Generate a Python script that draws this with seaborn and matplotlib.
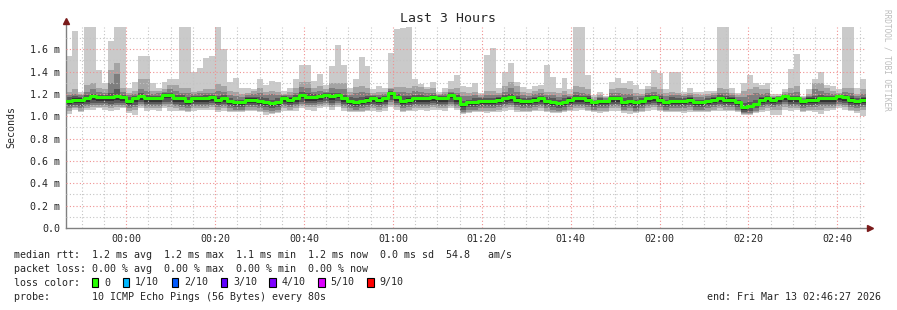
import numpy as np
import pandas as pd
import matplotlib
matplotlib.use("Agg")
import matplotlib.pyplot as plt
from matplotlib.patches import Rectangle
import seaborn as sns

# ---------------- data (ms), one value per 80 s step ----------------
p10 = [1.54, 1.76, 1.22, 1.85, 1.85, 1.41, 1.30, 1.67, 1.85, 1.85, 1.25, 1.31, 1.54, 1.54, 1.30, 1.25,
       1.31, 1.33, 1.33, 1.85, 1.85, 1.40, 1.43, 1.52, 1.54, 1.85, 1.60, 1.31, 1.34, 1.25, 1.25, 1.24, 1.33,
       1.28, 1.32, 1.31, 1.23, 1.25, 1.33, 1.46, 1.46, 1.32, 1.38, 1.28, 1.45, 1.64, 1.46, 1.25, 1.33, 1.53,
       1.45, 1.24, 1.27, 1.25, 1.57, 1.78, 1.79, 1.85, 1.33, 1.29, 1.26, 1.31, 1.22, 1.25, 1.32, 1.37, 1.27,
       1.26, 1.30, 1.21, 1.55, 1.61, 1.25, 1.40, 1.48, 1.31, 1.26, 1.24, 1.27, 1.28, 1.46, 1.35, 1.25, 1.34,
       1.24, 1.85, 1.85, 1.37, 1.19, 1.22, 1.18, 1.31, 1.34, 1.30, 1.32, 1.28, 1.24, 1.27, 1.41, 1.39, 1.24,
       1.40, 1.40, 1.22, 1.25, 1.22, 1.22, 1.23, 1.23, 1.85, 1.85, 1.25, 1.21, 1.30, 1.37, 1.30, 1.28,
       1.30, 1.20, 1.20, 1.24, 1.42, 1.56, 1.18, 1.24, 1.33, 1.40, 1.28, 1.27, 1.24, 1.85, 1.85, 1.25, 1.33]

p9 = [1.22, 1.24, 1.20, 1.28, 1.30, 1.25, 1.24, 1.41, 1.48, 1.25, 1.21, 1.23, 1.33, 1.33, 1.23, 1.23,
      1.24, 1.28, 1.28, 1.25, 1.25, 1.22, 1.23, 1.24, 1.24, 1.29, 1.27, 1.23, 1.22, 1.20, 1.21, 1.23, 1.25,
      1.22, 1.23, 1.22, 1.20, 1.22, 1.25, 1.31, 1.31, 1.25, 1.27, 1.24, 1.30, 1.30, 1.30, 1.22, 1.26, 1.27,
      1.25, 1.21, 1.22, 1.22, 1.25, 1.26, 1.26, 1.25, 1.27, 1.26, 1.24, 1.25, 1.20, 1.22, 1.24, 1.25, 1.22,
      1.21, 1.22, 1.19, 1.23, 1.23, 1.21, 1.27, 1.31, 1.27, 1.22, 1.21, 1.23, 1.24, 1.22, 1.22, 1.21, 1.23,
      1.20, 1.27, 1.26, 1.24, 1.17, 1.19, 1.17, 1.24, 1.25, 1.25, 1.24, 1.21, 1.20, 1.24, 1.26, 1.24, 1.21,
      1.22, 1.21, 1.20, 1.21, 1.20, 1.19, 1.20, 1.21, 1.25, 1.24, 1.21, 1.19, 1.23, 1.24, 1.26, 1.24,
      1.24, 1.18, 1.18, 1.22, 1.25, 1.27, 1.17, 1.20, 1.30, 1.30, 1.25, 1.23, 1.21, 1.25, 1.25, 1.20, 1.24]

p8 = [1.19, 1.20, 1.19, 1.22, 1.24, 1.22, 1.21, 1.30, 1.38, 1.22, 1.19, 1.20, 1.24, 1.23, 1.20, 1.21,
      1.22, 1.24, 1.23, 1.21, 1.21, 1.20, 1.21, 1.21, 1.21, 1.23, 1.22, 1.19, 1.18, 1.17, 1.19, 1.20, 1.21,
      1.19, 1.20, 1.19, 1.19, 1.19, 1.21, 1.26, 1.25, 1.22, 1.23, 1.22, 1.25, 1.24, 1.24, 1.19, 1.21, 1.22,
      1.21, 1.19, 1.19, 1.20, 1.24, 1.22, 1.22, 1.21, 1.23, 1.22, 1.21, 1.21, 1.19, 1.20, 1.22, 1.21, 1.18,
      1.18, 1.19, 1.17, 1.19, 1.19, 1.19, 1.22, 1.25, 1.22, 1.19, 1.18, 1.20, 1.21, 1.19, 1.19, 1.17, 1.19,
      1.18, 1.22, 1.21, 1.20, 1.15, 1.17, 1.16, 1.21, 1.21, 1.20, 1.20, 1.18, 1.18, 1.21, 1.22, 1.20, 1.18,
      1.19, 1.19, 1.18, 1.19, 1.17, 1.17, 1.18, 1.19, 1.21, 1.21, 1.19, 1.17, 1.17, 1.19, 1.21, 1.20,
      1.21, 1.17, 1.18, 1.20, 1.21, 1.22, 1.16, 1.18, 1.24, 1.23, 1.21, 1.20, 1.20, 1.22, 1.21, 1.18, 1.20]

p7 = [1.17, 1.18, 1.17, 1.19, 1.20, 1.19, 1.19, 1.21, 1.24, 1.19, 1.17, 1.18, 1.21, 1.19, 1.18, 1.18,
      1.21, 1.21, 1.19, 1.19, 1.17, 1.18, 1.18, 1.19, 1.19, 1.18, 1.19, 1.16, 1.15, 1.15, 1.17, 1.17, 1.17,
      1.16, 1.15, 1.16, 1.18, 1.17, 1.19, 1.22, 1.21, 1.20, 1.20, 1.21, 1.21, 1.21, 1.19, 1.17, 1.16, 1.17,
      1.18, 1.18, 1.17, 1.18, 1.23, 1.20, 1.18, 1.18, 1.19, 1.19, 1.18, 1.19, 1.18, 1.18, 1.21, 1.19, 1.14,
      1.15, 1.16, 1.16, 1.16, 1.16, 1.17, 1.19, 1.20, 1.18, 1.16, 1.16, 1.17, 1.18, 1.17, 1.16, 1.15, 1.16,
      1.17, 1.19, 1.18, 1.18, 1.14, 1.16, 1.15, 1.18, 1.18, 1.16, 1.17, 1.15, 1.16, 1.19, 1.19, 1.18, 1.15,
      1.17, 1.16, 1.16, 1.17, 1.15, 1.15, 1.16, 1.17, 1.19, 1.18, 1.17, 1.15, 1.12, 1.13, 1.15, 1.17,
      1.18, 1.16, 1.17, 1.19, 1.18, 1.18, 1.15, 1.17, 1.18, 1.19, 1.18, 1.18, 1.19, 1.19, 1.18, 1.16, 1.17]

p6 = [1.15, 1.16, 1.16, 1.17, 1.19, 1.18, 1.18, 1.18, 1.19, 1.18, 1.15, 1.17, 1.19, 1.17, 1.17, 1.17,
      1.20, 1.20, 1.17, 1.17, 1.15, 1.17, 1.17, 1.17, 1.18, 1.16, 1.17, 1.15, 1.14, 1.14, 1.16, 1.16, 1.15,
      1.14, 1.13, 1.14, 1.17, 1.16, 1.17, 1.20, 1.18, 1.18, 1.19, 1.20, 1.19, 1.20, 1.17, 1.15, 1.14, 1.15,
      1.16, 1.17, 1.16, 1.17, 1.22, 1.18, 1.15, 1.16, 1.17, 1.17, 1.17, 1.18, 1.17, 1.17, 1.20, 1.17, 1.12,
      1.14, 1.14, 1.15, 1.15, 1.15, 1.16, 1.17, 1.18, 1.16, 1.15, 1.15, 1.16, 1.17, 1.15, 1.14, 1.13, 1.14,
      1.16, 1.17, 1.17, 1.16, 1.14, 1.15, 1.15, 1.17, 1.17, 1.14, 1.15, 1.14, 1.15, 1.17, 1.18, 1.16, 1.14,
      1.15, 1.15, 1.15, 1.16, 1.14, 1.14, 1.15, 1.16, 1.17, 1.16, 1.16, 1.14, 1.09, 1.10, 1.12, 1.16,
      1.17, 1.16, 1.17, 1.19, 1.17, 1.17, 1.15, 1.16, 1.16, 1.17, 1.17, 1.17, 1.19, 1.18, 1.16, 1.15, 1.16]

median = [1.14, 1.15, 1.15, 1.16, 1.18, 1.17, 1.17, 1.17, 1.18, 1.17, 1.14, 1.16, 1.18, 1.16, 1.16, 1.16,
          1.19, 1.19, 1.16, 1.16, 1.14, 1.16, 1.16, 1.16, 1.17, 1.15, 1.16, 1.14, 1.13, 1.13, 1.15, 1.15, 1.14,
          1.13, 1.12, 1.13, 1.16, 1.15, 1.16, 1.19, 1.17, 1.17, 1.18, 1.19, 1.18, 1.19, 1.16, 1.14, 1.13, 1.14,
          1.15, 1.16, 1.15, 1.16, 1.21, 1.17, 1.14, 1.15, 1.16, 1.16, 1.16, 1.17, 1.16, 1.16, 1.19, 1.16, 1.11,
          1.13, 1.13, 1.14, 1.14, 1.14, 1.15, 1.16, 1.17, 1.15, 1.14, 1.14, 1.15, 1.16, 1.14, 1.13, 1.12, 1.13,
          1.15, 1.16, 1.16, 1.15, 1.13, 1.14, 1.14, 1.16, 1.16, 1.13, 1.14, 1.13, 1.14, 1.16, 1.17, 1.15, 1.13,
          1.14, 1.14, 1.14, 1.15, 1.13, 1.13, 1.14, 1.15, 1.16, 1.15, 1.15, 1.13, 1.08, 1.09, 1.11, 1.15,
          1.16, 1.15, 1.16, 1.18, 1.16, 1.16, 1.14, 1.15, 1.15, 1.16, 1.16, 1.16, 1.18, 1.17, 1.15, 1.14, 1.15]

p5 = [1.11, 1.12, 1.12, 1.13, 1.15, 1.14, 1.14, 1.14, 1.15, 1.14, 1.11, 1.13, 1.15, 1.13, 1.13, 1.13,
      1.16, 1.16, 1.13, 1.13, 1.11, 1.13, 1.13, 1.13, 1.14, 1.12, 1.13, 1.11, 1.10, 1.10, 1.12, 1.12, 1.11,
      1.10, 1.09, 1.10, 1.13, 1.12, 1.13, 1.16, 1.14, 1.14, 1.15, 1.16, 1.15, 1.16, 1.13, 1.11, 1.10, 1.11,
      1.12, 1.13, 1.12, 1.13, 1.18, 1.14, 1.11, 1.12, 1.13, 1.13, 1.13, 1.14, 1.13, 1.13, 1.16, 1.13, 1.08,
      1.10, 1.10, 1.11, 1.11, 1.11, 1.12, 1.13, 1.14, 1.12, 1.11, 1.11, 1.12, 1.13, 1.11, 1.10, 1.09, 1.10,
      1.12, 1.13, 1.13, 1.12, 1.10, 1.11, 1.11, 1.13, 1.13, 1.10, 1.11, 1.10, 1.11, 1.13, 1.14, 1.12, 1.10,
      1.11, 1.11, 1.11, 1.12, 1.10, 1.10, 1.11, 1.12, 1.13, 1.12, 1.12, 1.10, 1.06, 1.07, 1.09, 1.12,
      1.13, 1.12, 1.13, 1.15, 1.13, 1.13, 1.11, 1.12, 1.12, 1.13, 1.13, 1.13, 1.15, 1.14, 1.12, 1.11, 1.12]

p4 = [1.09, 1.10, 1.09, 1.11, 1.12, 1.12, 1.12, 1.11, 1.12, 1.12, 1.09, 1.10, 1.13, 1.11, 1.11, 1.11,
      1.13, 1.13, 1.11, 1.10, 1.09, 1.11, 1.11, 1.11, 1.12, 1.10, 1.11, 1.09, 1.08, 1.08, 1.10, 1.10, 1.09,
      1.08, 1.07, 1.08, 1.11, 1.10, 1.11, 1.13, 1.12, 1.12, 1.13, 1.14, 1.12, 1.14, 1.11, 1.09, 1.08, 1.09,
      1.10, 1.11, 1.10, 1.11, 1.15, 1.12, 1.09, 1.10, 1.11, 1.11, 1.11, 1.12, 1.11, 1.11, 1.13, 1.11, 1.06,
      1.08, 1.08, 1.09, 1.09, 1.09, 1.10, 1.11, 1.12, 1.10, 1.09, 1.09, 1.10, 1.11, 1.09, 1.08, 1.07, 1.08,
      1.10, 1.11, 1.11, 1.10, 1.08, 1.09, 1.09, 1.11, 1.11, 1.08, 1.09, 1.07, 1.09, 1.11, 1.12, 1.10, 1.08,
      1.09, 1.09, 1.09, 1.10, 1.08, 1.08, 1.09, 1.10, 1.11, 1.10, 1.10, 1.08, 1.04, 1.05, 1.07, 1.10,
      1.11, 1.10, 1.11, 1.13, 1.11, 1.11, 1.09, 1.10, 1.10, 1.11, 1.11, 1.11, 1.13, 1.12, 1.10, 1.09, 1.10]

p3 = [1.07, 1.08, 1.07, 1.09, 1.10, 1.10, 1.10, 1.09, 1.10, 1.10, 1.07, 1.08, 1.11, 1.09, 1.09, 1.09,
      1.11, 1.11, 1.09, 1.08, 1.07, 1.09, 1.09, 1.09, 1.10, 1.08, 1.09, 1.07, 1.06, 1.06, 1.08, 1.08, 1.07,
      1.06, 1.05, 1.06, 1.09, 1.08, 1.09, 1.11, 1.10, 1.10, 1.11, 1.12, 1.10, 1.12, 1.09, 1.07, 1.06, 1.07,
      1.08, 1.09, 1.08, 1.09, 1.13, 1.10, 1.07, 1.08, 1.09, 1.09, 1.09, 1.10, 1.09, 1.09, 1.11, 1.09, 1.04,
      1.06, 1.06, 1.07, 1.07, 1.07, 1.08, 1.09, 1.10, 1.08, 1.07, 1.07, 1.08, 1.09, 1.07, 1.06, 1.05, 1.06,
      1.08, 1.09, 1.09, 1.08, 1.06, 1.07, 1.07, 1.09, 1.09, 1.06, 1.07, 1.05, 1.07, 1.09, 1.10, 1.08, 1.06,
      1.07, 1.07, 1.07, 1.08, 1.06, 1.06, 1.07, 1.08, 1.09, 1.08, 1.08, 1.06, 1.03, 1.03, 1.05, 1.08,
      1.09, 1.08, 1.09, 1.11, 1.09, 1.09, 1.07, 1.08, 1.08, 1.09, 1.09, 1.09, 1.11, 1.10, 1.08, 1.07, 1.08]

p2 = [1.05, 1.07, 1.05, 1.07, 1.08, 1.08, 1.08, 1.07, 1.08, 1.08, 1.05, 1.06, 1.09, 1.07, 1.07, 1.07,
      1.09, 1.08, 1.07, 1.06, 1.05, 1.07, 1.07, 1.07, 1.08, 1.06, 1.07, 1.05, 1.05, 1.05, 1.06, 1.06, 1.05,
      1.04, 1.03, 1.04, 1.07, 1.06, 1.07, 1.09, 1.08, 1.08, 1.09, 1.10, 1.08, 1.10, 1.07, 1.05, 1.05, 1.05,
      1.06, 1.07, 1.06, 1.07, 1.10, 1.08, 1.05, 1.06, 1.07, 1.07, 1.07, 1.08, 1.07, 1.07, 1.09, 1.07, 1.03,
      1.04, 1.05, 1.05, 1.05, 1.05, 1.06, 1.07, 1.08, 1.06, 1.05, 1.05, 1.06, 1.07, 1.05, 1.04, 1.04, 1.05,
      1.06, 1.07, 1.07, 1.06, 1.05, 1.05, 1.05, 1.07, 1.07, 1.05, 1.05, 1.04, 1.05, 1.07, 1.08, 1.06, 1.05,
      1.05, 1.05, 1.05, 1.06, 1.05, 1.05, 1.05, 1.06, 1.07, 1.06, 1.06, 1.05, 1.02, 1.02, 1.04, 1.06,
      1.07, 1.06, 1.06, 1.08, 1.07, 1.07, 1.05, 1.06, 1.06, 1.06, 1.07, 1.07, 1.09, 1.08, 1.06, 1.05, 1.06]

p1 = [1.02, 1.06, 1.04, 1.06, 1.06, 1.07, 1.06, 1.05, 1.06, 1.07, 1.03, 1.01, 1.07, 1.05, 1.06, 1.05,
      1.07, 1.05, 1.05, 1.05, 1.04, 1.05, 1.06, 1.06, 1.06, 1.04, 1.05, 1.04, 1.04, 1.04, 1.05, 1.05, 1.04,
      1.01, 1.02, 1.03, 1.05, 1.05, 1.05, 1.07, 1.06, 1.05, 1.07, 1.08, 1.06, 1.08, 1.05, 1.04, 1.04, 1.04,
      1.05, 1.05, 1.04, 1.05, 1.08, 1.06, 1.04, 1.05, 1.05, 1.06, 1.05, 1.06, 1.06, 1.05, 1.07, 1.06, 1.02,
      1.03, 1.04, 1.04, 1.03, 1.04, 1.04, 1.05, 1.06, 1.04, 1.04, 1.04, 1.05, 1.05, 1.04, 1.03, 1.03, 1.04,
      1.05, 1.05, 1.06, 1.05, 1.04, 1.03, 1.04, 1.05, 1.05, 1.03, 1.02, 1.03, 1.04, 1.05, 1.06, 1.05, 1.04,
      1.04, 1.04, 1.03, 1.04, 1.04, 1.04, 1.04, 1.05, 1.05, 1.05, 1.05, 1.04, 1.01, 1.01, 1.03, 1.04,
      1.05, 1.01, 1.01, 1.06, 1.05, 1.06, 1.04, 1.05, 1.04, 1.02, 1.05, 1.06, 1.07, 1.06, 1.05, 1.03, 1.00]

# time window in minutes relative to 00:00 (23:46:27 .. 02:46:27)
t_start, t_end = -13.55, 166.45
x_tick_minutes = [0, 20, 40, 60, 80, 100, 120, 140, 160]
x_tick_labels = ["00:00", "00:20", "00:40", "01:00", "01:20", "01:40", "02:00", "02:20", "02:40"]
y_ticks = [0.0, 0.2, 0.4, 0.6, 0.8, 1.0, 1.2, 1.4, 1.6]
y_tick_labels = ["0.0", "0.2 m", "0.4 m", "0.6 m", "0.8 m", "1.0 m", "1.2 m", "1.4 m", "1.6 m"]

loss_labels = ["0", "1/10", "2/10", "3/10", "4/10", "5/10", "9/10"]
loss_colors = ["#26ff00", "#00b8ff", "#0059ff", "#5e00ff", "#7e00ff", "#dd00ff", "#ff0000"]

n = len(median)
for name, arr in [("p10", p10), ("p9", p9), ("p8", p8), ("p7", p7), ("p6", p6),
                  ("p5", p5), ("p4", p4), ("p3", p3), ("p2", p2), ("p1", p1)]:
    assert len(arr) == n, (name, len(arr), n)

# ---------------- figure ----------------
sns.set_style("white")
plt.rcParams["font.family"] = ["DejaVu Sans Mono", "DejaVu Sans"]

W, H = 897, 310
fig = plt.figure(figsize=(W / 100, H / 100), dpi=100)
fig.patch.set_facecolor("white")
ax = fig.add_axes([66 / W, 1 - 228 / H, 800 / W, 201 / H])

edges = np.linspace(t_start, t_end, n + 1)

def ext(a):
    a = np.asarray(a, dtype=float)
    return np.append(a, a[-1])

bands = [(p1, p10, "#cacaca"), (p2, p9, "#a4a4a4"), (p3, p8, "#7e7e7e"),
         (p4, p7, "#585858"), (p5, p6, "#323232")]
for lo, hi, c in bands:
    ax.fill_between(edges, ext(lo), ext(hi), step="post", color=c, lw=0, zorder=1)

df = pd.DataFrame({"t": edges, "median": ext(median)})
sns.lineplot(data=df, x="t", y="median", ax=ax, color=loss_colors[0],
             drawstyle="steps-post", lw=2.2, zorder=6, legend=False)

ax.set_xlim(t_start, t_end)
ax.set_ylim(0, 1.799)

# grid (rrdtool style: dotted gray minor, dotted red major)
minor_col = "#c4c4c4"
major_col = "#f09090"
for m in np.arange(-10, 170, 5):
    if m % 20 == 0:
        ax.axvline(m, color=major_col, lw=0.8, ls=(0, (1, 2)), zorder=3)
    else:
        ax.axvline(m, color=minor_col, lw=0.8, ls=(0, (1, 2)), zorder=3)
for v in np.arange(1, 18):
    yv = v / 10
    if v % 2 == 0:
        ax.axhline(yv, color=major_col, lw=0.8, ls=(0, (1, 2)), zorder=3)
    else:
        ax.axhline(yv, color=minor_col, lw=0.8, ls=(0, (1, 2)), zorder=3)

ax.set_xticks(x_tick_minutes)
ax.set_xticklabels(x_tick_labels)
ax.set_yticks(y_ticks)
ax.set_yticklabels(y_tick_labels)
ax.tick_params(axis="both", labelsize=7.2, length=2, width=0.8, color="#808080",
               direction="out", pad=2)
ax.set_xlabel("")
ax.set_ylabel("")
ax.grid(False)

for s in ["top", "right"]:
    ax.spines[s].set_visible(False)
for s in ["left", "bottom"]:
    ax.spines[s].set_color("#808080")
    ax.spines[s].set_linewidth(1.0)
ax.spines["left"].set_bounds(0, 1.85)

# axis arrows
ax.plot([0], [1.028], marker="^", color="#7a1a1a", ms=4.5, transform=ax.transAxes,
        clip_on=False, zorder=10)
ax.plot([1.005], [0], marker=">", color="#7a1a1a", ms=4.5, transform=ax.transAxes,
        clip_on=False, zorder=10)

def px(x, y):
    return x / W, 1 - y / H

fs = 7.2
fig.text(*px(448, 19), "Last 3 Hours", ha="center", va="center", fontsize=9.5)
fig.text(*px(11, 127), "Seconds", ha="center", va="center", rotation=90, fontsize=fs)
fig.text(*px(887, 60), "RRDTOOL / TOBI OETIKER", ha="center", va="center",
         rotation=270, fontsize=5.6, color="#bdbdbd")

fig.text(*px(14, 255), "median rtt:  1.2 ms avg  1.2 ms max  1.1 ms min  1.2 ms now  0.0 ms sd  54.8   am/s",
         ha="left", va="center", fontsize=fs)
fig.text(*px(14, 268.5), "packet loss: 0.00 % avg  0.00 % max  0.00 % min  0.00 % now",
         ha="left", va="center", fontsize=fs)
fig.text(*px(14, 282.5), "loss color:", ha="left", va="center", fontsize=fs)
box_x = [91.5, 122.5, 171.5, 220.5, 269, 318, 367]
for bx, lab, col in zip(box_x, loss_labels, loss_colors):
    fig.patches.append(Rectangle(px(bx, 286.5), 6.5 / W, 8.5 / H, transform=fig.transFigure,
                                 facecolor=col, edgecolor="black", lw=0.8, figure=fig))
    fig.text(*px(bx + 12.5, 282.5), lab, ha="left", va="center", fontsize=fs)
fig.text(*px(14, 296.5), "probe:       10 ICMP Echo Pings (56 Bytes) every 80s",
         ha="left", va="center", fontsize=fs)
fig.text(*px(881, 296.5), "end: Fri Mar 13 02:46:27 2026", ha="right", va="center", fontsize=fs)

fig.savefig("out.png", dpi=100, facecolor="white")
